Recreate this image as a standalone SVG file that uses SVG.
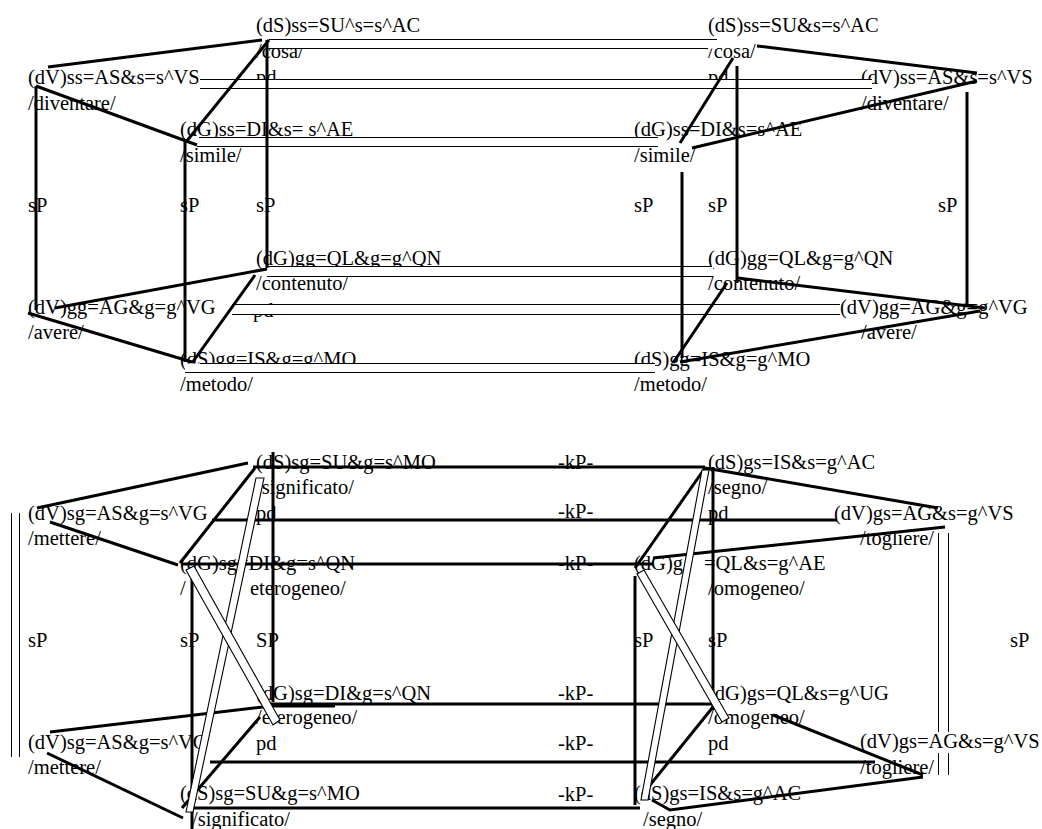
<svg xmlns="http://www.w3.org/2000/svg" width="1042" height="829" viewBox="0 0 1042 829">
<style>
text{font-family:"Liberation Serif","Times New Roman",serif;font-size:20.5px;fill:#000}
.tk{stroke:#000;stroke-width:3;fill:none;stroke-linecap:butt}
.tn{stroke:#000;stroke-width:1;fill:none}
.wb{fill:#fff;stroke:none}
.hb{fill:#fff;stroke:#000;stroke-width:1.1}
</style>
<rect width="1042" height="829" fill="#fff"/>
<!-- top section nodes -->
<g id="n-dS-ss-L"><text x="256" y="32">(dS)ss=SU^s=s^AC</text><text x="256" y="58">/cosa/</text><text x="256" y="84">pd</text></g>
<g id="n-dV-ss-L"><text x="28" y="84">(dV)ss=AS&amp;s=s^VS</text><text x="28" y="110">/diventare/</text></g>
<g id="n-dG-ss-L"><text x="180" y="136">(dG)ss=DI&amp;s= s^AE</text><text x="180" y="162">/simile/</text></g>
<g id="n-dS-ss-R"><text x="708" y="32">(dS)ss=SU&amp;s=s^AC</text><text x="708" y="58">/cosa/</text><text x="708" y="84">pd</text></g>
<g id="n-dV-ss-R"><text x="861" y="84">(dV)ss=AS&amp;s=s^VS</text><text x="861" y="110">/diventare/</text></g>
<g id="n-dG-ss-R"><text x="634" y="136">(dG)ss=DI&amp;s=s^AE</text><text x="634" y="162">/simile/</text></g>
<g id="sp-top"><text x="28" y="212">sP</text><text x="180" y="212">sP</text><text x="256" y="212">sP</text><text x="634" y="212">sP</text><text x="708" y="212">sP</text><text x="938" y="212">sP</text></g>
<g id="n-dG-gg-L"><text x="256" y="265">(dG)gg=QL&amp;g=g^QN</text><text x="256" y="290">/contenuto/</text><text x="253" y="317">pd</text></g>
<g id="n-dG-gg-R"><text x="708" y="265">(dG)gg=QL&amp;g=g^QN</text><text x="708" y="290">/contenuto/</text></g>
<g id="n-dV-gg-L"><text x="28" y="314">(dV)gg=AG&amp;g=g^VG</text><text x="28" y="339">/avere/</text></g>
<g id="n-dV-gg-R"><text x="840" y="314">(dV)gg=AG&amp;g=g^VG</text><text x="861" y="339">/avere/</text></g>
<g id="n-dS-gg-L"><text x="180" y="366">(dS)gg=IS&amp;g=g^MO</text><text x="180" y="391">/metodo/</text></g>
<g id="n-dS-gg-R"><text x="634" y="366">(dS)gg=IS&amp;g=g^MO</text><text x="634" y="391">/metodo/</text></g>
<!-- bottom section nodes -->
<g id="n-dS-sg-1"><text x="256" y="469">(dS)sg=SU&amp;g=s^MO</text><text x="256" y="494">/significato/</text><text x="256" y="520">pd</text></g>
<g id="n-dV-sg-1"><text x="28" y="520">(dV)sg=AS&amp;g=s^VG</text><text x="28" y="545">/mettere/</text></g>
<g id="n-dG-sg-1"><text x="180" y="570">(dG)sg=DI&amp;g=s^QN</text><text x="180" y="595">/</text><text x="250" y="595">eterogeneo/</text></g>
<g id="n-dS-gs-1"><text x="708" y="469">(dS)gs=IS&amp;s=g^AC</text><text x="708" y="494">/segno/</text><text x="708" y="520">pd</text></g>
<g id="n-dV-gs-1"><text x="834" y="520">(dV)gs=AG&amp;s=g^VS</text><text x="860" y="545">/togliere/</text></g>
<g id="n-dG-gs-1"><text x="634" y="570">(dG)g</text><text x="704" y="570">=QL&amp;s=g^AE</text><text x="708" y="595">/omogeneo/</text></g>
<g id="kp"><text x="558" y="469">-kP-</text><text x="558" y="518">-kP-</text><text x="558" y="570">-kP-</text><text x="558" y="700">-kP-</text><text x="558" y="750">-kP-</text><text x="558" y="801">-kP-</text></g>
<g id="sp-bot"><text x="28" y="647">sP</text><text x="180" y="647">sP</text><text x="256" y="647">SP</text><text x="634" y="647">sP</text><text x="708" y="647">sP</text><text x="1010" y="647">sP</text></g>
<g id="n-dG-sg-2"><text x="256" y="700">(dG)sg=DI&amp;g=s^QN</text><text x="256" y="724">/eterogeneo/</text><text x="256" y="750">pd</text></g>
<g id="n-dV-sg-2"><text x="28" y="749">(dV)sg=AS&amp;g=s^VG</text><text x="28" y="774">/mettere/</text></g>
<g id="n-dS-sg-2"><text x="180" y="800">(dS)sg=SU&amp;g=s^MO</text><text x="192" y="826">/significato/</text></g>
<g id="n-dG-gs-2"><text x="708" y="700">(dG)gs=QL&amp;s=g^UG</text><text x="708" y="724">/omogeneo/</text><text x="708" y="750">pd</text></g>
<g id="n-dV-gs-2"><text x="860" y="748">(dV)gs=AG&amp;s=g^VS</text><text x="860" y="774">/togliere/</text></g>
<g id="n-dS-gs-2"><text x="634" y="800">(dS)gs=IS&amp;s=g^AC</text><text x="643" y="826">/segno/</text></g>
<!-- connectors -->
<g id="connectors">
<!-- top double bands -->
<rect class="wb" x="269" y="39.5" width="448" height="9"/><line class="tn" x1="269" y1="39.5" x2="717" y2="39.5"/><line class="tn" x1="269" y1="48.5" x2="708" y2="48.5"/>
<rect class="wb" x="200" y="79.5" width="672" height="9"/><line class="tn" x1="200" y1="79.5" x2="872" y2="79.5"/><line class="tn" x1="200" y1="88.5" x2="872" y2="88.5"/>
<rect class="wb" x="197" y="137.5" width="461" height="9"/><line class="tn" x1="199" y1="137.5" x2="658" y2="137.5"/><line class="tn" x1="197" y1="146.5" x2="658" y2="146.5"/>
<rect class="wb" x="267" y="266.5" width="446" height="10"/><line class="tn" x1="267" y1="266.5" x2="712" y2="266.5"/><line class="tn" x1="267" y1="276.5" x2="713" y2="276.5"/>
<rect class="wb" x="232" y="304.5" width="608" height="10"/><line class="tn" x1="232" y1="304.5" x2="840" y2="304.5"/><line class="tn" x1="232" y1="314.5" x2="840" y2="314.5"/>
<rect class="wb" x="185" y="363.5" width="470" height="9"/><line class="tn" x1="200" y1="363.5" x2="655" y2="363.5"/><line class="tn" x1="185" y1="372.5" x2="655" y2="372.5"/>
<!-- top thick -->
<line class="tk" x1="48" y1="67" x2="262" y2="40"/>
<line class="tk" x1="36" y1="86" x2="197" y2="145"/>
<line class="tk" x1="269" y1="40" x2="186" y2="142"/>
<line class="tk" x1="36" y1="86" x2="36" y2="310"/>
<line class="tk" x1="185" y1="140" x2="185" y2="362"/>
<line class="tk" x1="267" y1="40" x2="267" y2="268"/>
<line class="tk" x1="55" y1="308" x2="267" y2="269"/>
<line class="tk" x1="28" y1="313" x2="192" y2="362"/>
<line class="tk" x1="255" y1="275" x2="192" y2="363"/>
<line class="tk" x1="757" y1="46" x2="977" y2="73"/>
<line class="tk" x1="733" y1="58" x2="680" y2="143"/>
<line class="tk" x1="692" y1="148" x2="977" y2="81"/>
<line class="tk" x1="737" y1="66" x2="737" y2="283"/>
<line class="tk" x1="682" y1="172" x2="682" y2="358"/>
<line class="tk" x1="967" y1="92" x2="967" y2="305"/>
<line class="tk" x1="738" y1="278" x2="985" y2="308"/>
<line class="tk" x1="680" y1="362" x2="980" y2="311"/>
<line class="tk" x1="673" y1="363" x2="727" y2="283"/>
<!-- bottom thin doubles -->
<line class="tn" x1="11.5" y1="513" x2="11.5" y2="757"/><line class="tn" x1="19.5" y1="513" x2="19.5" y2="757"/>
<line class="tn" x1="938.5" y1="533" x2="938.5" y2="732"/><line class="tn" x1="948.5" y1="533" x2="948.5" y2="732"/>
<line class="tn" x1="938.5" y1="753" x2="938.5" y2="775"/><line class="tn" x1="948.5" y1="753" x2="948.5" y2="775"/>
<!-- bottom thick -->
<line class="tk" x1="253" y1="467" x2="705" y2="467"/>
<line class="tk" x1="212" y1="520" x2="837" y2="520"/>
<line class="tk" x1="182" y1="564" x2="653" y2="564"/>
<line class="tk" x1="273" y1="452" x2="273" y2="702"/>
<line class="tk" x1="192" y1="567" x2="192" y2="829"/>
<line class="tk" x1="267" y1="704" x2="712" y2="704"/>
<line class="tk" x1="265" y1="706" x2="335" y2="706"/>
<line class="tk" x1="210" y1="762" x2="875" y2="762"/>
<line class="tk" x1="188" y1="808" x2="640" y2="808"/>
<line class="tk" x1="635" y1="576" x2="635" y2="805"/>
<line class="tk" x1="713" y1="467" x2="713" y2="710"/>
<line class="tk" x1="37" y1="508" x2="248" y2="463"/>
<line class="tk" x1="50" y1="522" x2="178" y2="565"/>
<line class="tk" x1="180" y1="563" x2="255" y2="468"/>
<line class="tk" x1="705" y1="468" x2="635" y2="568"/>
<line class="tk" x1="705" y1="468" x2="938" y2="508"/>
<line class="tk" x1="653" y1="558" x2="945" y2="527"/>
<line class="tk" x1="713" y1="707" x2="646" y2="790"/>
<line class="tk" x1="773" y1="715" x2="923" y2="775"/>
<polyline class="tk" points="923,777 670,810 652,800"/>
<line class="tk" x1="50" y1="732" x2="263" y2="707"/>
<line class="tk" x1="47" y1="753" x2="183" y2="818"/>
<line class="tk" x1="182" y1="808" x2="260" y2="717"/>
<!-- hollow bands -->
<polygon class="hb" points="256,478 264,478 193,812 186,812"/>
<polygon class="hb" points="186,570 194,566 280,720 273,725"/>
<polygon class="hb" points="702,470 709,470 648,800 641,800"/>
<polygon class="hb" points="637,574 644,570 729,718 722,722"/>
</g>
</svg>
